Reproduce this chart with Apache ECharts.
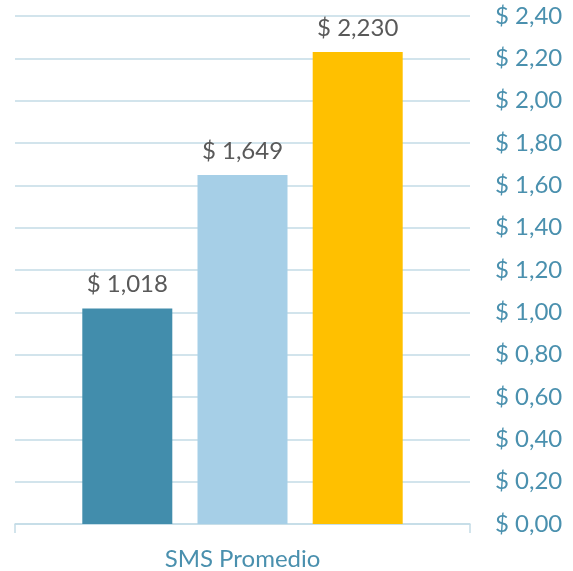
<!DOCTYPE html>
<html>
<head>
<meta charset="utf-8">
<script src="https://cdn.jsdelivr.net/npm/echarts@6/dist/echarts.min.js"></script>
<style>
html, body { margin: 0; padding: 0; background: #fff; }
#main { width: 573px; height: 571px; }
</style>
</head>
<body>
<div id="main"></div>
<script>
var categories = ['SMS Promedio'];
var seriesNames = ['A', 'B', 'C'];
var seriesValues = [[1.018], [1.649], [2.230]];
var seriesColors = ['#428dac', '#a6cfe7', '#ffc000'];
var yTicks = { min: 0, max: 2.4, interval: 0.2 };

var fontFam = 'Lato, "Open Sans", sans-serif';
var myChart = echarts.init(document.getElementById('main'));

var series = seriesNames.map(function (name, i) {
    return {
        name: name,
        type: 'bar',
        yAxisIndex: 0,
        data: seriesValues[i],
        barWidth: 90,
        barGap: '28%',
        itemStyle: { color: seriesColors[i] },
        label: {
            show: true,
            position: 'top',
            distance: 12,
            color: '#595959',
            fontSize: 24,
            fontFamily: fontFam,
            formatter: function (p) {
                return '$ ' + p.value.toFixed(3).replace('.', ',');
            }
        }
    };
});

var option = {
    animation: false,
    grid: { left: 15, right: 103, top: 16, bottom: 47 },
    xAxis: {
        type: 'category',
        data: categories,
        axisLine: { lineStyle: { color: '#c3dbe6', width: 1.5 } },
        axisTick: { show: true, length: 9, lineStyle: { color: '#c3dbe6', width: 1.5 } },
        axisLabel: { color: '#4a90ae', fontSize: 24, fontFamily: fontFam, margin: 23 }
    },
    yAxis: {
        type: 'value',
        position: 'right',
        min: yTicks.min,
        max: yTicks.max,
        interval: yTicks.interval,
        axisLine: { show: false },
        axisTick: { show: false },
        splitLine: { lineStyle: { color: '#c3dbe6', width: 1.5 } },
        axisLabel: {
            color: '#4a90ae',
            fontSize: 24,
            fontFamily: fontFam,
            margin: 25,
            formatter: function (v) {
                return '$ ' + v.toFixed(2).replace('.', ',');
            }
        }
    },
    series: series
};

myChart.setOption(option);
</script>
</body>
</html>
